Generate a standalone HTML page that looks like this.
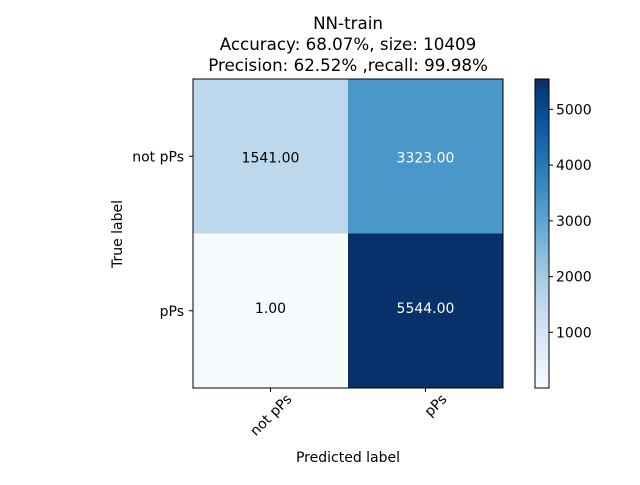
<!DOCTYPE html>
<html><head><meta charset="utf-8"><style>
body{margin:0;background:#fff}
svg text{font-family:"DejaVu Sans","Liberation Sans",sans-serif;font-size:14px;fill:#000}
</style></head><body>
<svg id="chart" width="640" height="480" xmlns="http://www.w3.org/2000/svg">
<defs><linearGradient id="blues" x1="0" y1="1" x2="0" y2="0">
<stop offset="0" stop-color="#f7fbff"/><stop offset="0.125" stop-color="#deebf7"/><stop offset="0.25" stop-color="#c6dbef"/><stop offset="0.375" stop-color="#9ecae1"/><stop offset="0.5" stop-color="#6baed6"/><stop offset="0.625" stop-color="#4292c6"/><stop offset="0.75" stop-color="#2171b5"/><stop offset="0.875" stop-color="#08519c"/><stop offset="1" stop-color="#08306b"/>
</linearGradient></defs>
<text x="348" y="29" text-anchor="middle" style="font-size:16.7px">NN-train</text>
<text x="348" y="50" text-anchor="middle" style="font-size:16.7px">Accuracy: 68.07%, size: 10409</text>
<text x="348" y="71" text-anchor="middle" style="font-size:16.7px">Precision: 62.52% ,recall: 99.98%</text>
<g id="cells"></g>
<g id="cbar"></g>
<text x="348" y="462" text-anchor="middle">Predicted label</text>
<text transform="translate(122,234) rotate(-90)" text-anchor="middle">True label</text>
</svg>
<script>
const categories=["not pPs","pPs"];
const row0=[1541,3323];
const row1=[1,5544];
const cbarTicks=[1000,2000,3000,4000,5000];
const NS="http://www.w3.org/2000/svg";
const L=193,T=79,W=310,H=309;
const vals=[row0,row1];
const vmin=Math.min(...row0,...row1),vmax=Math.max(...row0,...row1);
const stops=[[247,251,255],[222,235,247],[198,219,239],[158,202,225],[107,174,214],[66,146,198],[33,113,181],[8,81,156],[8,48,107]];
function color(v){let t=(v-vmin)/(vmax-vmin)*8;let i=Math.min(7,Math.floor(t)),f=t-i;let c=stops[i].map((a,k)=>Math.round(a+(stops[i+1][k]-a)*f));return `rgb(${c})`;}
function mk(tag,attrs,parent){const e=document.createElementNS(NS,tag);for(const k in attrs)e.setAttribute(k,attrs[k]);parent.appendChild(e);return e;}
const g=document.getElementById('cells');
const n=categories.length,cw=W/n,ch=H/n;
for(let r=0;r<n;r++)for(let c=0;c<n;c++){
 const v=vals[r][c];
 const rect=mk('rect',{x:L+c*cw,y:T+r*ch,width:cw,height:ch,fill:color(v)},g);
 
 
 const t=mk('text',{x:L+c*cw+cw/2,y:T+r*ch+ch/2+(r==0?6:2),'text-anchor':'middle'},g);
 t.textContent=v.toFixed(2);
 if(v>vmax/2)t.setAttribute('style','fill:#fff');
 
 
}
const fr=mk('rect',{x:L,y:T,width:W,height:H,fill:'none',stroke:'#000','stroke-width':1},g);


categories.forEach((cat,i)=>{
 const x=L+i*cw+cw/2,y=T+i*ch+ch/2;
 mk('line',{x1:x,y1:T+H,x2:x,y2:T+H+4,stroke:'#000'},g);
 const xt=mk('text',{transform:`translate(${x+22},${T+H+12}) rotate(-45)`,'text-anchor':'end'},g);
 xt.textContent=cat;
 
 
 mk('line',{x1:L-4,y1:y,x2:L,y2:y,stroke:'#000'},g);
 const yt=mk('text',{x:L-9,y:y+5,'text-anchor':'end'},g);
 yt.textContent=cat;
 
 
});
const cb=document.getElementById('cbar');
const CX=535,CW=14;
const cr=mk('rect',{x:CX,y:T,width:CW,height:H,fill:'url(#blues)',stroke:'#000','stroke-width':1},cb);


cbarTicks.forEach(v=>{
 const y=T+H-(v-vmin)/(vmax-vmin)*H;
 mk('line',{x1:CX+CW,y1:y,x2:CX+CW+4,y2:y,stroke:'#000'},cb);
 const t=mk('text',{x:CX+CW+7,y:y+5},cb);
 t.textContent=v;
 
 
});
</script>
</body></html>
